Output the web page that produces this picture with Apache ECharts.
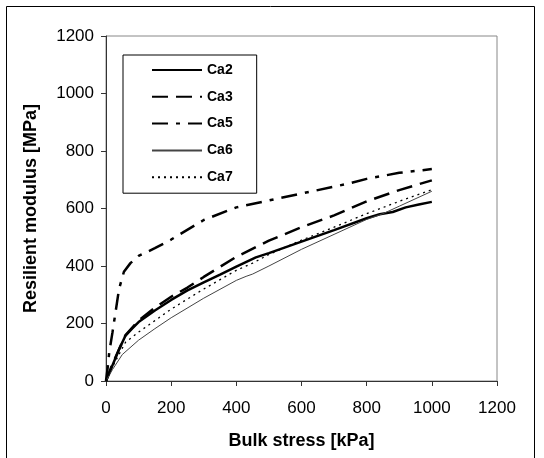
<!DOCTYPE html>
<html>
<head>
<meta charset="utf-8">
<script src="https://cdn.jsdelivr.net/npm/echarts@6/dist/echarts.min.js"></script>
<style>
  html, body { margin: 0; padding: 0; background: #fff; }
  #chart { width: 544px; height: 458px; }
</style>
</head>
<body>
<div id="chart"></div>
<script>
// data: bulk stress [kPa] -> resilient modulus [MPa]
var seriesNames = ['Ca2', 'Ca3', 'Ca5', 'Ca6', 'Ca7'];

var ca2X = [0, 20, 40, 60, 80, 100, 150, 200, 250, 300, 350, 400, 460, 500, 600, 700, 800, 840, 880, 920, 960, 1000];
var ca2Y = [0, 55, 110, 158, 182, 205, 245, 282, 315, 343, 370, 398, 430, 445, 485, 525, 566, 580, 588, 604, 614, 623];

var ca3X = [0, 20, 60, 100, 150, 200, 250, 300, 400, 500, 600, 700, 800, 900, 1000];
var ca3Y = [0, 60, 160, 210, 255, 293, 325, 362, 432, 488, 535, 576, 625, 664, 698];

var ca5X = [0, 5, 10, 20, 30, 40, 55, 75, 100, 150, 200, 300, 400, 500, 600, 700, 750, 800, 900, 1000];
var ca5Y = [0, 45, 100, 170, 245, 320, 380, 410, 435, 462, 492, 560, 604, 628, 652, 676, 688, 703, 724, 737];

var ca6X = [0, 20, 50, 100, 150, 200, 300, 400, 430, 450, 500, 600, 700, 800, 850, 900, 1000];
var ca6Y = [0, 40, 92, 142, 182, 220, 288, 350, 364, 372, 400, 458, 510, 562, 582, 608, 660];

var ca7X = [0, 20, 60, 100, 150, 200, 300, 400, 450, 500, 600, 700, 800, 900, 1000];
var ca7Y = [0, 50, 135, 170, 210, 250, 320, 385, 410, 440, 490, 535, 582, 625, 665];

var xTicks = [0, 1200, 200];   // min, max, interval
var yTicks = [0, 1200, 200];

function pairs(xs, ys) {
  var out = [];
  for (var i = 0; i < xs.length; i++) out.push([xs[i], ys[i]]);
  return out;
}

var myChart = echarts.init(document.getElementById('chart'));

var option = {
  animation: false,
  backgroundColor: '#fff',
  textStyle: { fontFamily: 'Liberation Sans, Arial, sans-serif' },
  graphic: [{
    type: 'rect',
    shape: { x: 6.5, y: 6.5, width: 528, height: 470 },
    style: { fill: 'none', stroke: '#000', lineWidth: 1 },
    z: -1
  }],
  grid: {
    left: 106, top: 36, right: 47, bottom: 77,
    show: true, borderColor: '#888', borderWidth: 1, backgroundColor: '#fff'
  },
  legend: {
    orient: 'vertical',
    left: 123, top: 55,
    itemWidth: 50, itemHeight: 14, itemGap: 12.8,
    padding: [8, 24, 9, 28],
    borderColor: '#000', borderWidth: 1, backgroundColor: '#fff',
    itemStyle: { opacity: 0 },
    textStyle: { fontSize: 14, fontWeight: 'bold', color: '#000', fontFamily: 'Liberation Sans, Arial, sans-serif' },
    data: seriesNames
  },
  xAxis: {
    type: 'value',
    min: xTicks[0], max: xTicks[1], interval: xTicks[2],
    name: 'Bulk stress [kPa]',
    nameLocation: 'middle', nameGap: 51,
    nameTextStyle: { fontSize: 18, fontWeight: 'bold', color: '#000' },
    axisLine: { lineStyle: { color: '#333', width: 1 } },
    axisTick: { length: 5, lineStyle: { color: '#333' } },
    axisLabel: { fontSize: 17, color: '#000', margin: 19, formatter: function (v) { return String(v); } },
    splitLine: { show: false }
  },
  yAxis: {
    type: 'value',
    min: yTicks[0], max: yTicks[1], interval: yTicks[2],
    name: 'Resilient modulus [MPa]',
    nameLocation: 'middle', nameGap: 66,
    nameTextStyle: { fontSize: 18, fontWeight: 'bold', color: '#000' },
    axisLine: { show: true, lineStyle: { color: '#333', width: 1 } },
    axisTick: { show: true, length: 5, lineStyle: { color: '#333' } },
    axisLabel: { fontSize: 17, color: '#000', margin: 12, formatter: function (v) { return String(v); } },
    splitLine: { show: false }
  },
  series: [{
    name: 'Ca2', type: 'line', symbol: 'none',
    data: pairs(ca2X, ca2Y),
    lineStyle: { color: '#000', width: 2.5, type: 'solid' },
    itemStyle: { color: '#000' }
  }, {
    name: 'Ca3', type: 'line', symbol: 'none',
    data: pairs(ca3X, ca3Y),
    lineStyle: { color: '#000', width: 2.5, type: [16, 8] },
    itemStyle: { color: '#000' }
  }, {
    name: 'Ca5', type: 'line', symbol: 'none',
    data: pairs(ca5X, ca5Y),
    lineStyle: { color: '#000', width: 2.5, type: [16, 8, 4, 8] },
    itemStyle: { color: '#000' }
  }, {
    name: 'Ca6', type: 'line', symbol: 'none',
    data: pairs(ca6X, ca6Y),
    lineStyle: { color: '#444', width: 1, type: 'solid' },
    itemStyle: { color: '#444' }
  }, {
    name: 'Ca7', type: 'line', symbol: 'none',
    data: pairs(ca7X, ca7Y),
    lineStyle: { color: '#000', width: 1.3, type: [2, 4] },
    itemStyle: { color: '#000' }
  }]
};

myChart.setOption(option);
</script>
</body>
</html>
